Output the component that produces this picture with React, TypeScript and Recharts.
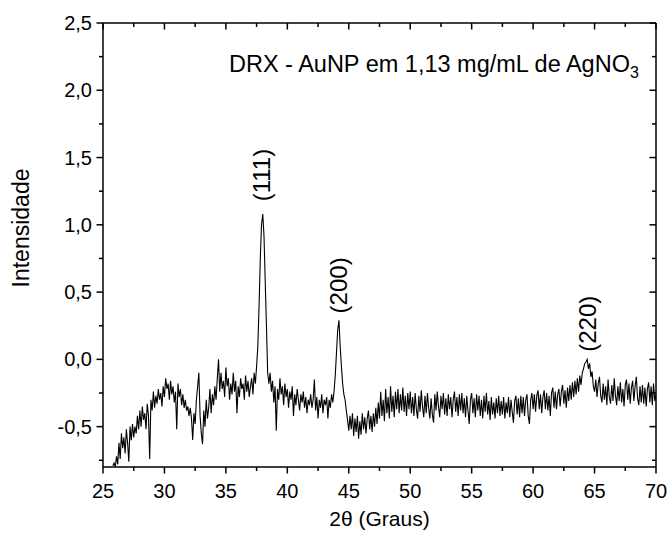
import React from "react";
import { LineChart, Line, XAxis, YAxis, ReferenceLine, ReferenceDot } from "recharts";

const STEP = 0.1;

// 25.8° – 29.9°
const seg25 = [
  -0.79, -0.77, -0.8, -0.72, -0.78, -0.62, -0.74, -0.55, -0.66, -0.58,
  -0.7, -0.52, -0.62, -0.76, -0.5, -0.6, -0.48, -0.58, -0.5, -0.55,
  -0.42, -0.52, -0.38, -0.5, -0.35, -0.45, -0.4, -0.52, -0.33, -0.42,
  -0.74, -0.3, -0.38, -0.24, -0.36, -0.27, -0.33, -0.22, -0.3, -0.25,
  -0.35, -0.2,
];
// 30.0° – 34.9°
const seg30 = [
  -0.28, -0.14, -0.22, -0.18, -0.3, -0.16, -0.26, -0.2, -0.32, -0.24,
  -0.52, -0.18, -0.28, -0.22, -0.34, -0.26, -0.36, -0.3, -0.38, -0.35,
  -0.42, -0.36, -0.44, -0.6, -0.4, -0.48, -0.3, -0.2, -0.1, -0.42,
  -0.55, -0.63, -0.38, -0.5, -0.3, -0.44, -0.36, -0.22, -0.4, -0.26,
  -0.34, -0.2, -0.3, -0.14, 0.0, -0.24, -0.1, -0.22, -0.16, -0.28,
];
// 35.0° – 39.9°  (111)
const seg35 = [
  -0.06, -0.2, -0.14, -0.3, -0.18, -0.26, -0.1, -0.24, -0.16, -0.4,
  -0.2, -0.28, -0.14, -0.22, -0.18, -0.3, -0.12, -0.24, -0.16, -0.28,
  -0.2, -0.14, -0.26, -0.1, -0.18, -0.05, 0.1, 0.4, 0.75, 1.0,
  1.08, 0.92, 0.58, 0.25, -0.1, -0.18, -0.1, -0.24, -0.16, -0.32,
  -0.2, -0.53, -0.22, -0.3, -0.14, -0.26, -0.2, -0.34, -0.18, -0.28,
];
// 40.0° – 44.9°  (200)
const seg40 = [
  -0.22, -0.36, -0.24, -0.3, -0.2, -0.42, -0.26, -0.34, -0.22, -0.3,
  -0.38, -0.26, -0.32, -0.24, -0.36, -0.28, -0.4, -0.3, -0.34, -0.26,
  -0.36, -0.3, -0.15, -0.38, -0.28, -0.44, -0.3, -0.36, -0.26, -0.4,
  -0.3, -0.34, -0.28, -0.44, -0.3, -0.36, -0.26, -0.32, -0.24, -0.12,
  0.05, 0.22, 0.29, 0.1, -0.05, -0.18, -0.26, -0.3, -0.38, -0.45,
];
// 45.0° – 49.9°
const seg45 = [
  -0.53, -0.42, -0.52, -0.4, -0.57, -0.44, -0.54, -0.42, -0.59, -0.46,
  -0.56, -0.4, -0.52, -0.43, -0.55, -0.44, -0.38, -0.52, -0.42, -0.54,
  -0.4, -0.5, -0.36, -0.48, -0.32, -0.44, -0.24, -0.42, -0.3, -0.46,
  -0.22, -0.4, -0.28, -0.44, -0.2, -0.39, -0.27, -0.43, -0.24, -0.37,
  -0.22, -0.4, -0.26, -0.38, -0.21, -0.39, -0.27, -0.42, -0.25, -0.37,
];
// 50.0° – 54.9°
const seg50 = [
  -0.24, -0.4, -0.28, -0.42, -0.25, -0.37, -0.44, -0.27, -0.39, -0.23,
  -0.35, -0.43, -0.27, -0.4, -0.25, -0.36, -0.44, -0.29, -0.41, -0.47,
  -0.26, -0.38, -0.24, -0.35, -0.43, -0.27, -0.37, -0.25, -0.41, -0.29,
  -0.42, -0.26, -0.37, -0.28, -0.43, -0.3, -0.24, -0.39, -0.28, -0.42,
  -0.26, -0.38, -0.25, -0.4, -0.29, -0.43, -0.27, -0.38, -0.48, -0.3,
];
// 55.0° – 59.9°
const seg55 = [
  -0.25, -0.4, -0.29, -0.43, -0.26, -0.38, -0.27, -0.42, -0.3, -0.44,
  -0.27, -0.39, -0.25, -0.41, -0.31, -0.45, -0.28, -0.41, -0.32, -0.44,
  -0.29, -0.4, -0.27, -0.42, -0.31, -0.41, -0.28, -0.44, -0.32, -0.4,
  -0.28, -0.43, -0.3, -0.39, -0.47, -0.31, -0.27, -0.41, -0.29, -0.43,
  -0.27, -0.4, -0.28, -0.42, -0.3, -0.26, -0.42, -0.48, -0.3, -0.25,
];
// 60.0° – 64.9°  (220)
const seg60 = [
  -0.37, -0.26, -0.39, -0.27, -0.23, -0.37, -0.26, -0.4, -0.28, -0.23,
  -0.37, -0.25, -0.38, -0.27, -0.42, -0.25, -0.21, -0.36, -0.24, -0.37,
  -0.26, -0.22, -0.35, -0.24, -0.19, -0.33, -0.23, -0.36, -0.21, -0.31,
  -0.19, -0.3, -0.17, -0.28, -0.16, -0.26, -0.14, -0.24, -0.12, -0.19,
  -0.1, -0.07, -0.03, -0.02, 0.0, -0.07, -0.03, -0.13, -0.09, -0.2,
];
// 65.0° – 70.0°
const seg65 = [
  -0.24, -0.15, -0.28, -0.18, -0.13, -0.27, -0.32, -0.18, -0.3, -0.2,
  -0.34, -0.15, -0.28, -0.33, -0.19, -0.31, -0.14, -0.27, -0.34, -0.2,
  -0.31, -0.17, -0.32, -0.22, -0.35, -0.19, -0.15, -0.3, -0.18, -0.33,
  -0.21, -0.16, -0.31, -0.2, -0.13, -0.29, -0.34, -0.2, -0.32, -0.19,
  -0.33, -0.21, -0.35, -0.22, -0.17, -0.32, -0.2, -0.34, -0.18, -0.31,
  -0.26,
];

const segments: [number, number[]][] = [
  [25.8, seg25], [30, seg30], [35, seg35], [40, seg40], [45, seg45],
  [50, seg50], [55, seg55], [60, seg60], [65, seg65],
];

const xTicks = [25, 27.5, 30, 32.5, 35, 37.5, 40, 42.5, 45, 47.5, 50, 52.5, 55, 57.5, 60, 62.5, 65, 67.5, 70];
const yTicks = [-0.75, -0.5, -0.25, 0, 0.25, 0.5, 0.75, 1, 1.25, 1.5, 1.75, 2, 2.25, 2.5];

const peaks = [
  { label: "(111)", x: 37.94, y: 1.37 },
  { label: "(200)", x: 44.2, y: 0.55 },
  { label: "(220)", x: 64.4, y: 0.265 },
];

const data = segments.flatMap(([start, vals]) =>
  vals.map((y, i) => ({ x: +(start + i * STEP).toFixed(1), y }))
);

const FONT = "'Liberation Sans', Arial, Helvetica, sans-serif";
const W = 667;
const H = 535;
const PLOT_W = 553;
const PLOT_H = 444;

const fmt = (v: number) => v.toFixed(1).replace(".", ",");

function XTick({ x, y, payload }: any) {
  const v = payload.value;
  const major = v % 5 === 0;
  const len = major ? 6.5 : 4;
  return (
    <g>
      <line x1={x} y1={y} x2={x} y2={y + len} stroke="#000" strokeWidth={1.5} />
      <line x1={x} y1={y - PLOT_H} x2={x} y2={y - PLOT_H + len} stroke="#000" strokeWidth={1.5} />
      {major && (
        <text x={x} y={y + 31} textAnchor="middle" fontSize={20} fontFamily={FONT} fill="#000">
          {v}
        </text>
      )}
    </g>
  );
}

function YTick({ x, y, payload }: any) {
  const v = payload.value;
  const major = Math.abs(v * 2 - Math.round(v * 2)) < 1e-9;
  const len = major ? 6.5 : 4;
  return (
    <g>
      <line x1={x} y1={y} x2={x - len} y2={y} stroke="#000" strokeWidth={1.5} />
      <line x1={x + PLOT_W} y1={y} x2={x + PLOT_W - len} y2={y} stroke="#000" strokeWidth={1.5} />
      {major && (
        <text x={x - 11} y={y + 7} textAnchor="end" fontSize={20} fontFamily={FONT} fill="#000">
          {fmt(v)}
        </text>
      )}
    </g>
  );
}

function YTitle({ viewBox }: any) {
  const cx = 21;
  const cy = viewBox.y + viewBox.height / 2 - 17;
  return (
    <text
      x={cx}
      y={cy}
      transform={`rotate(-90, ${cx}, ${cy})`}
      textAnchor="middle"
      dy="0.35em"
      fontSize={23}
      fontFamily={FONT}
      fill="#000"
    >
      Intensidade
    </text>
  );
}

function XTitle({ viewBox }: any) {
  return (
    <text
      x={viewBox.x + viewBox.width / 2}
      y={526}
      textAnchor="middle"
      fontSize={21}
      fontFamily={FONT}
      fill="#000"
    >
      2θ (Graus)
    </text>
  );
}

function PeakLabel({ cx, cy, text }: any) {
  return (
    <text
      x={cx}
      y={cy}
      transform={`rotate(-90, ${cx}, ${cy})`}
      textAnchor="middle"
      dy="0.35em"
      fontSize={24}
      fontFamily={FONT}
      fill="#000"
    >
      {text}
    </text>
  );
}

function Title({ cx, cy }: any) {
  return (
    <text x={cx} y={cy} fontSize={23.5} fontFamily={FONT} fill="#000">
      DRX - AuNP em 1,13 mg/mL de AgNO
      <tspan dy={6} fontSize={16}>3</tspan>
    </text>
  );
}

export default function App() {
  return (
    <div style={{ width: W, height: H }}>
      <style>{"body{margin:0;overflow:hidden;background:#fff}"}</style>
      <LineChart width={W} height={H} data={data} margin={{ top: 23, right: 11, bottom: 0, left: 0 }}>
        <XAxis
          type="number"
          dataKey="x"
          domain={[25, 70]}
          ticks={xTicks}
          allowDataOverflow
          height={68}
          tickSize={0}
          tickMargin={0}
          tickLine={false}
          axisLine={{ stroke: "#000", strokeWidth: 1.5 }}
          tick={<XTick />}
          interval={0}
          label={<XTitle />}
        />
        <YAxis
          type="number"
          domain={[-0.8, 2.5]}
          ticks={yTicks}
          allowDataOverflow
          width={103}
          tickSize={0}
          tickMargin={0}
          tickLine={false}
          axisLine={{ stroke: "#000", strokeWidth: 1.5 }}
          tick={<YTick />}
          interval={0}
          label={<YTitle />}
        />
        <ReferenceLine y={2.5} stroke="#000" strokeWidth={1.5} />
        <ReferenceLine x={70} stroke="#000" strokeWidth={1.5} />
        <Line
          type="linear"
          dataKey="y"
          stroke="#000"
          strokeWidth={1.1}
          dot={false}
          isAnimationActive={false}
        />
        {peaks.map((p) => (
          <ReferenceDot
            key={p.label}
            x={p.x}
            y={p.y}
            r={0}
            ifOverflow="visible"
            shape={(props: any) => <PeakLabel {...props} text={p.label} />}
          />
        ))}
        <ReferenceDot x={35.25} y={2.136} r={0} ifOverflow="visible" shape={(props: any) => <Title {...props} />} />
      </LineChart>
    </div>
  );
}
